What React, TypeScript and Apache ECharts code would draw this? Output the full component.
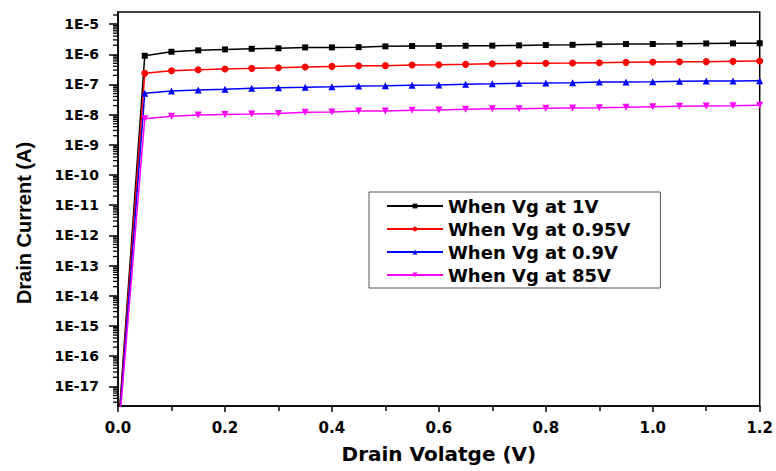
import React, { useEffect, useRef } from "react";
import * as echarts from "echarts";

// Drain voltage (V)
const drainVoltage = [
  0, 0.05, 0.1, 0.15, 0.2, 0.25, 0.3, 0.35, 0.4, 0.45, 0.5, 0.55, 0.6,
  0.65, 0.7, 0.75, 0.8, 0.85, 0.9, 0.95, 1.0, 1.05, 1.1, 1.15, 1.2,
];

// Drain current (A)
const currentVg1 = [
  3e-19, 8.91e-7, 1.21e-6, 1.35e-6, 1.45e-6, 1.52e-6, 1.57e-6, 1.69e-6, 1.69e-6,
  1.72e-6, 1.83e-6, 1.87e-6, 1.88e-6, 1.91e-6, 1.93e-6, 1.97e-6, 2.02e-6,
  2.06e-6, 2.13e-6, 2.18e-6, 2.19e-6, 2.21e-6, 2.28e-6, 2.3e-6, 2.32e-6,
];
const currentVg095 = [
  2.5e-19, 2.33e-7, 2.84e-7, 3.07e-7, 3.24e-7, 3.41e-7, 3.57e-7, 3.77e-7, 3.97e-7,
  4.16e-7, 4.2e-7, 4.39e-7, 4.49e-7, 4.63e-7, 4.85e-7, 5.0e-7, 5.05e-7,
  5.12e-7, 5.24e-7, 5.4e-7, 5.52e-7, 5.65e-7, 5.7e-7, 5.82e-7, 5.96e-7,
];
const currentVg09 = [
  2e-19, 5.07e-8, 6.04e-8, 6.53e-8, 6.89e-8, 7.43e-8, 7.78e-8, 8.02e-8, 8.39e-8,
  8.85e-8, 9.06e-8, 9.34e-8, 9.55e-8, 1.02e-7, 1.05e-7, 1.1e-7, 1.11e-7,
  1.14e-7, 1.2e-7, 1.21e-7, 1.23e-7, 1.27e-7, 1.3e-7, 1.31e-7, 1.33e-7,
];
const currentVg85 = [
  1.5e-19, 7.31e-9, 8.79e-9, 9.7e-9, 1.02e-8, 1.05e-8, 1.1e-8, 1.19e-8, 1.22e-8,
  1.32e-8, 1.33e-8, 1.39e-8, 1.42e-8, 1.5e-8, 1.57e-8, 1.58e-8, 1.62e-8,
  1.66e-8, 1.69e-8, 1.75e-8, 1.83e-8, 1.88e-8, 1.93e-8, 1.97e-8, 2.03e-8,
];

const seriesNames = [
  "When Vg at 1V",
  "When Vg at 0.95V",
  "When Vg at 0.9V",
  "When Vg at 85V",
];
const seriesColors = ["#000000", "#ff0000", "#0000ff", "#ff00ff"];

const xAxisTitle = "Drain Volatge (V)";
const yAxisTitle = "Drain Current (A)";

// Decade exponents used as y tick labels (1E-17 ... 1E-5)
const yTickExponents = [-17, -16, -15, -14, -13, -12, -11, -10, -9, -8, -7, -6, -5];
const yMinExp = -17.65;
const yMaxExp = -4.6;

const minorExponents: number[] = [];
for (let n = -18; n <= -5; n++) {
  for (let k = 2; k <= 9; k++) {
    const v = Math.log10(k) + n;
    if (v > yMinExp && v < yMaxExp) minorExponents.push(v);
  }
}

export default function App() {
  const ref = useRef<HTMLDivElement>(null);
  useEffect(() => {
    if (!ref.current) return;
    const chart = echarts.init(ref.current, undefined, { renderer: "svg" });
    const allSeries = [currentVg1, currentVg095, currentVg09, currentVg85];
    const symbols = ["rect", "circle", "triangle", "triangle"];
    const sizes = [6, 7, 7, 7];
    const rotations = [0, 0, 0, 180];
    const labelFont = {
      fontFamily: "DejaVu Sans",
      fontWeight: "bold" as const,
      color: "#000",
    };
    const lineSeries = allSeries.map((vals, i) => ({
      name: seriesNames[i],
      type: "line",
      yAxisIndex: 0,
      data: vals.map((v, j) => [drainVoltage[j], Math.log10(v)]),
      symbol: symbols[i],
      symbolSize: sizes[i],
      symbolRotate: rotations[i],
      showSymbol: true,
      clip: true,
      color: seriesColors[i],
      lineStyle: { color: seriesColors[i], width: 1.5 },
      itemStyle: { color: seriesColors[i] },
      z: 3,
    }));
    // log-spaced minor ticks on the y axis, placed through the axis scale
    const minorTickSeries = {
      type: "custom",
      name: "minorTicks",
      silent: true,
      clip: false,
      z: 5,
      encode: { x: 0, y: 1 },
      data: minorExponents.map((v) => [0, v]),
      renderItem: (_params: any, api: any) => {
        const p = api.coord([0, api.value(1)]);
        return {
          type: "line",
          shape: { x1: p[0] - 5, y1: p[1], x2: p[0], y2: p[1] },
          style: { stroke: "#000", lineWidth: 1.3 },
        };
      },
    };
    chart.setOption({
      animation: false,
      backgroundColor: "#fff",
      grid: {
        left: 118,
        right: 14,
        top: 12,
        bottom: 65,
        show: true,
        borderColor: "#000",
        borderWidth: 1.5,
        backgroundColor: "transparent",
      },
      graphic: [
        {
          type: "text",
          x: 24,
          y: 223,
          rotation: Math.PI / 2,
          style: {
            text: yAxisTitle,
            fontFamily: "Liberation Sans, Arial, sans-serif",
            fontWeight: "bold",
            fontSize: 20,
            fill: "#000",
            textAlign: "center",
            textVerticalAlign: "middle",
          },
        },
      ],
      legend: {
        orient: "vertical",
        left: 369,
        top: 192,
        padding: [4, 30, 3, 17],
        itemWidth: 56,
        itemHeight: 6,
        itemGap: 3,
        borderColor: "#555",
        borderWidth: 1,
        data: seriesNames,
        textStyle: { ...labelFont, fontSize: 18, lineHeight: 20 },
      },
      xAxis: {
        type: "value",
        min: 0,
        max: 1.2,
        interval: 0.2,
        name: xAxisTitle,
        nameLocation: "middle",
        nameGap: 38,
        nameTextStyle: { ...labelFont, fontSize: 20 },
        axisLine: { show: true, lineStyle: { color: "#000", width: 1.5 } },
        axisTick: { show: true, inside: false, length: 6, lineStyle: { color: "#000", width: 1.5 } },
        minorTick: { show: true, splitNumber: 2, length: 5, lineStyle: { color: "#000", width: 1.5 } },
        splitLine: { show: false },
        axisLabel: {
          ...labelFont,
          fontSize: 15,
          margin: 14,
          formatter: (v: number) => v.toFixed(1),
        },
      },
      yAxis: {
        type: "value",
        min: yMinExp,
        max: yMaxExp,
        axisLine: { show: true, lineStyle: { color: "#000", width: 1.5 } },
        axisTick: {
          show: true,
          inside: false,
          length: 9,
          customValues: yTickExponents,
          lineStyle: { color: "#000", width: 1.5 },
        },
        splitLine: { show: false },
        axisLabel: {
          ...labelFont,
          fontSize: 14,
          margin: 19,
          customValues: yTickExponents,
          formatter: (v: number) => `1E${Math.round(v)}`,
        },
      },
      series: [...lineSeries, minorTickSeries],
    });
    return () => chart.dispose();
  }, []);
  return (
    <div
      ref={ref}
      style={{ position: "fixed", left: 0, top: 0, width: 776, height: 471 }}
    />
  );
}
